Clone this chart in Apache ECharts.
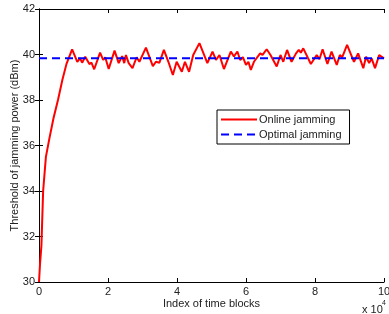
<!DOCTYPE html>
<html>
<head>
<meta charset="utf-8">
<script src="https://cdn.jsdelivr.net/npm/echarts@6/dist/echarts.min.js"></script>
<style>
  html, body { margin: 0; padding: 0; background: #fff; }
</style>
</head>
<body>
<div id="chart" style="width:389px;height:314px"></div>
<script>
// x in units of 10^4 time blocks
const blockIdx = [0, 0.03, 0.07, 0.12, 0.2, 0.3, 0.42, 0.55, 0.68, 0.8, 0.96,
  1.11, 1.19, 1.25, 1.34, 1.46, 1.52, 1.60, 1.77, 1.86, 1.92, 2.02, 2.19, 2.31, 2.41,
  2.47, 2.52, 2.60, 2.71, 2.83, 2.91, 3.10, 3.30, 3.39, 3.49, 3.62, 3.75, 3.88, 3.99,
  4.14, 4.23, 4.35, 4.47, 4.65, 4.88, 5.03, 5.13, 5.23, 5.36, 5.56, 5.65, 5.75, 5.83,
  5.91, 6.00, 6.07, 6.14, 6.23, 6.41, 6.48, 6.60, 6.71, 6.89, 7.00, 7.08, 7.19, 7.32,
  7.45, 7.53, 7.59, 7.66, 7.88, 8.05, 8.13, 8.22, 8.36, 8.48, 8.63, 8.72, 8.79, 8.93,
  9.13, 9.25, 9.40, 9.48, 9.57, 9.64, 9.74, 9.86, 10.0]
const onlinePower = [30, 30.8, 31.6, 34.0, 35.5, 36.3, 37.2, 38.0, 38.9, 39.6, 40.23,
  39.68, 39.83, 39.64, 39.9, 39.58, 39.64, 39.35, 40.08, 39.76, 39.88, 39.36, 40.17, 39.62, 39.93,
  39.62, 39.98, 39.62, 39.4, 39.88, 39.68, 40.3, 39.49, 39.68, 39.64, 40.2, 39.68, 39.1, 39.68,
  39.24, 39.68, 39.24, 39.98, 40.5, 39.62, 40.13, 39.76, 39.98, 39.36, 40.13, 39.91, 40.13, 39.76,
  39.88, 39.54, 39.68, 39.32, 39.68, 40.05, 39.98, 40.23, 39.98, 39.47, 39.98, 39.68, 40.2, 39.68,
  40.05, 40.2, 40.08, 40.27, 39.58, 39.98, 39.79, 40.23, 39.58, 40.13, 39.54, 39.98, 39.88, 40.42,
  39.68, 40.05, 39.4, 39.9, 39.62, 39.83, 39.4, 39.98, 39.83]
const optimalPower = 39.83
const xTicks = [0, 2, 4, 6, 8, 10]
const yTicks = [30, 32, 34, 36, 38, 40, 42]

const fontFam = 'Liberation Sans, Arial, sans-serif'
const online = blockIdx.map((x, i) => [x, onlinePower[i]])
const optimal = [[xTicks[0], optimalPower], [xTicks[xTicks.length - 1], optimalPower]]

const axisBase = {
  type: 'value',
  axisLine: { show: true, lineStyle: { color: '#000', width: 1 } },
  axisTick: { show: true, inside: true, length: 4, lineStyle: { color: '#000' } },
  splitLine: { show: false }
}

const myChart = echarts.init(document.getElementById('chart'))
myChart.setOption({
  animation: false,
  grid: { left: 39, top: 9, right: 5, bottom: 32, containLabel: false, outerBoundsMode: 'none' },
  legend: {
    orient: 'vertical',
    left: 217,
    top: 110,
    width: 130,
    padding: [4, 8, 4, 3],
    itemGap: 4,
    itemWidth: 36,
    itemHeight: 10,
    borderColor: '#000',
    borderWidth: 1,
    backgroundColor: '#fff',
    itemStyle: { opacity: 0 },
    textStyle: { fontFamily: fontFam, fontSize: 11, color: '#222', padding: [0, 0, 0, -3] },
    data: ['Online jamming', 'Optimal jamming']
  },
  xAxis: [
    Object.assign({}, axisBase, {
      min: 0, max: 10, interval: 2,
      name: 'Index of time blocks',
      nameLocation: 'middle',
      nameGap: 16,
      nameMoveOverlap: false,
      nameTextStyle: { fontFamily: fontFam, fontSize: 11, color: '#222' },
      axisLabel: { fontFamily: fontFam, fontSize: 11, color: '#222', margin: 4 }
    }),
    Object.assign({}, axisBase, {
      position: 'top', min: 0, max: 10, interval: 2,
      axisLabel: { show: false }
    })
  ],
  yAxis: [
    Object.assign({}, axisBase, {
      min: yTicks[0], max: yTicks[yTicks.length - 1], interval: 2,
      name: 'Threshold of jamming power (dBm)',
      nameLocation: 'middle',
      nameGap: 19,
      nameMoveOverlap: false,
      nameTextStyle: { fontFamily: fontFam, fontSize: 11, color: '#222' },
      axisLabel: { fontFamily: fontFam, fontSize: 11, color: '#222', margin: 4 }
    }),
    Object.assign({}, axisBase, {
      position: 'right', min: yTicks[0], max: yTicks[yTicks.length - 1], interval: 2,
      axisLabel: { show: false }
    })
  ],
  graphic: [
    {
      type: 'text', x: 362, y: 304,
      style: { text: 'x 10', fontFamily: fontFam, fontSize: 11, fill: '#222' }
    },
    {
      type: 'text', x: 382, y: 300,
      style: { text: '4', fontFamily: fontFam, fontSize: 7, fill: '#222' }
    }
  ],
  series: [
    {
      name: 'Online jamming',
      type: 'line',
      data: online,
      symbol: 'none',
      lineStyle: { color: '#ff0000', width: 2 },
      itemStyle: { color: '#ff0000' },
      z: 2
    },
    {
      name: 'Optimal jamming',
      type: 'line',
      data: optimal,
      symbol: 'none',
      lineStyle: { color: '#0000ff', width: 2, type: [8, 5] },
      itemStyle: { color: '#0000ff' },
      z: 3
    }
  ]
})
</script>
</body>
</html>
